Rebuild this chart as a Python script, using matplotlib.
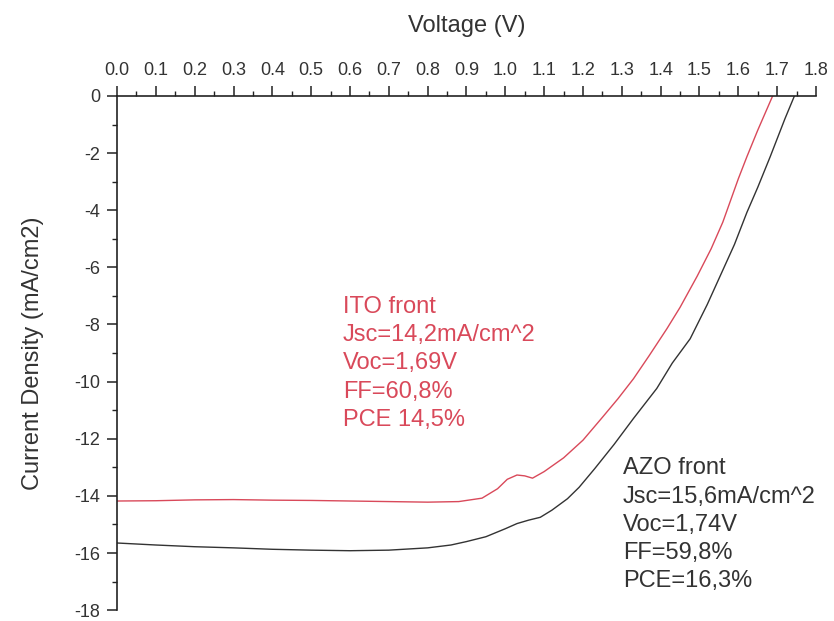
import numpy as np
import matplotlib.pyplot as plt
from matplotlib.ticker import MultipleLocator, FormatStrFormatter

plt.rcParams['font.family'] = ['Liberation Sans', 'DejaVu Sans']
plt.rcParams['axes.unicode_minus'] = False

# ITO front (red)
v_ito = [0.0, 0.1, 0.2, 0.3, 0.4, 0.5, 0.6, 0.7, 0.8, 0.88, 0.94, 0.98, 1.005,
         1.03, 1.05, 1.07, 1.1, 1.15, 1.2, 1.25, 1.29, 1.33, 1.37, 1.416, 1.45,
         1.494, 1.53, 1.56, 1.6, 1.622, 1.65, 1.69, 1.70]
j_ito = [-14.18, -14.17, -14.14, -14.13, -14.15, -14.16, -14.18, -14.20, -14.22,
         -14.20, -14.08, -13.75, -13.42, -13.27, -13.30, -13.38, -13.15, -12.67,
         -12.05, -11.25, -10.6, -9.9, -9.1, -8.15, -7.4, -6.31, -5.35, -4.42,
         -2.9, -2.13, -1.2, 0.05, 0.35]

# AZO front (black)
v_azo = [0.0, 0.1, 0.2, 0.3, 0.4, 0.5, 0.6, 0.7, 0.8, 0.86, 0.9, 0.95, 1.0,
         1.03, 1.06, 1.09, 1.12, 1.16, 1.19, 1.23, 1.28, 1.33, 1.39, 1.43,
         1.476, 1.52, 1.553, 1.59, 1.622, 1.65, 1.682, 1.72, 1.746, 1.755]
j_azo = [-15.65, -15.72, -15.78, -15.82, -15.87, -15.90, -15.92, -15.90, -15.82,
         -15.72, -15.60, -15.43, -15.15, -14.97, -14.85, -14.75, -14.50, -14.10,
         -13.70, -13.05, -12.20, -11.29, -10.24, -9.35, -8.50, -7.30, -6.31,
         -5.20, -4.08, -3.20, -2.13, -0.80, 0.05, 0.35]

ito_text = "ITO front\nJsc=14,2mA/cm^2\nVoc=1,69V\nFF=60,8%\nPCE 14,5%"
azo_text = "AZO front\nJsc=15,6mA/cm^2\nVoc=1,74V\nFF=59,8%\nPCE=16,3%"

red = '#d9495a'
dark = '#333333'

fig = plt.figure(figsize=(8.34, 6.21), dpi=100)
ax = fig.add_axes([0.1403, 0.0175, 0.8381, 0.828])

ax.plot(v_ito, j_ito, color=red, lw=1.0)
ax.plot(v_azo, j_azo, color=dark, lw=1.0)

ax.set_xlim(0, 1.8)
ax.set_ylim(-18, 0)

# 軸は上と左のみ
ax.spines['right'].set_visible(False)
ax.spines['bottom'].set_visible(False)
for s in ['top', 'left']:
    ax.spines[s].set_linewidth(1.2)
    ax.spines[s].set_color('#222222')

ax.xaxis.tick_top()
ax.xaxis.set_label_position('top')
ax.xaxis.set_major_locator(MultipleLocator(0.1))
ax.xaxis.set_minor_locator(MultipleLocator(0.05))
ax.xaxis.set_major_formatter(FormatStrFormatter('%.1f'))
ax.yaxis.set_major_locator(MultipleLocator(2))
ax.yaxis.set_minor_locator(MultipleLocator(1))

ax.tick_params(which='major', direction='out', length=7, width=1.1,
               labelsize=13, colors='#222222', labelcolor='#333333', pad=5)
ax.tick_params(which='minor', direction='out', length=3.5, width=1.0,
               colors='#222222')

ax.set_xlabel("Voltage (V)", fontsize=17, color='#333333', labelpad=22)
ax.set_ylabel("Current Density (mA/cm2)", fontsize=17, color='#333333', labelpad=22)

ax.text(0.582, -7.0, ito_text, color=red, fontsize=17, va='top', ha='left',
        linespacing=1.37)
ax.text(1.303, -12.65, azo_text, color=dark, fontsize=17, va='top', ha='left',
        linespacing=1.37)

plt.savefig("out.png", dpi=100)
